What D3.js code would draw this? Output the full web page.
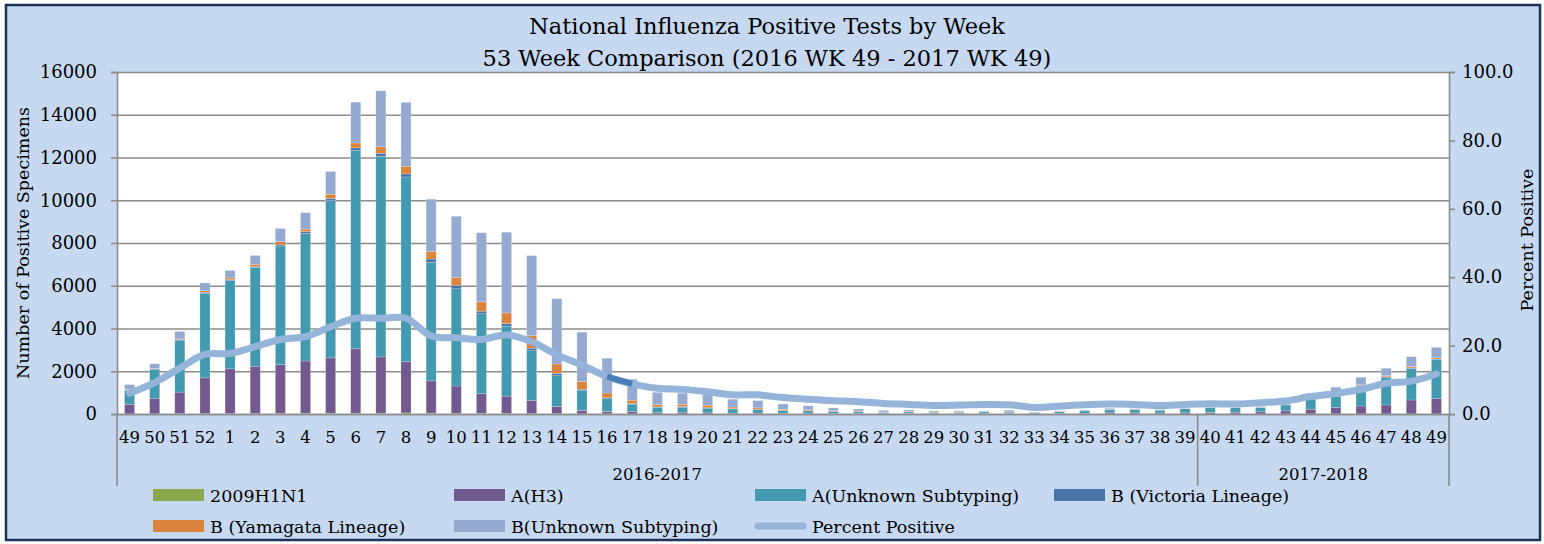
<!DOCTYPE html>
<html>
<head>
<meta charset="utf-8">
<script src="https://cdn.jsdelivr.net/npm/d3@7"></script>
<style>
  html, body { margin: 0; padding: 0; background: #ffffff; }
  svg { display: block; }
  text { font-family: "DejaVu Serif", "Liberation Serif", serif; fill: #000; }
</style>
</head>
<body>
<svg id="chart" width="1544" height="544"></svg>
<script>
// ---------------- DATA ----------------
const weeks = ["49","50","51","52","1","2","3","4","5","6","7","8","9","10","11","12","13","14","15","16","17","18","19","20","21","22","23","24","25","26","27","28","29","30","31","32","33","34","35","36","37","38","39","40","41","42","43","44","45","46","47","48","49"];
const seasons = [
  { label: "2016-2017", first: 0, last: 42 },
  { label: "2017-2018", first: 43, last: 52 }
];
const h1n1 = [5,10,15,20,25,25,30,30,35,40,40,50,40,30,30,25,20,15,10,10,8,5,5,5,5,5,5,5,5,5,5,5,5,5,5,10,5,5,5,5,5,5,5,5,5,5,5,5,5,5,5,5,5];
const aH3 = [450,730,1010,1670,2090,2210,2280,2450,2590,3010,2630,2400,1510,1280,920,810,620,340,155,110,110,50,80,50,40,40,30,25,20,20,15,20,15,15,15,20,15,20,30,50,50,40,50,70,80,95,140,220,300,370,420,650,730];
const aUnknown = [650,1350,2430,3950,4130,4630,5550,5970,7370,9290,9390,8640,5540,4550,3740,3275,2320,1435,935,590,340,260,230,215,190,160,120,110,100,80,60,70,55,60,80,60,50,80,110,160,150,130,190,220,210,215,280,480,510,935,1295,1480,1825];
const bVictoria = [20,20,30,50,40,40,50,80,90,110,140,140,160,160,120,120,120,110,60,50,30,20,30,20,20,20,15,15,10,10,5,5,5,5,5,5,5,5,5,5,5,5,5,5,5,5,5,10,10,15,20,20,20];
const bYamagata = [30,20,30,80,80,100,150,120,200,230,300,360,360,370,440,500,580,440,360,220,160,110,110,120,70,60,50,40,30,20,20,20,15,15,10,20,5,10,10,10,10,10,5,5,5,5,10,20,30,40,50,60,50];
const bUnknown = [220,220,350,360,350,410,620,770,1060,1910,2620,2990,2440,2860,3230,3775,3750,3055,2310,1630,980,570,520,485,370,340,250,190,120,100,70,70,50,45,30,65,15,25,30,40,35,35,15,15,15,25,65,240,400,355,350,470,490];
const percentPositive = [6.1,9.2,13.4,17.4,17.7,19.7,21.8,22.6,25.5,28.0,28.0,28.0,22.8,22.3,21.8,23.1,21.1,17.3,14.3,10.9,8.8,7.5,7.2,6.5,5.6,5.6,4.8,4.3,3.9,3.6,3.1,2.8,2.5,2.6,2.8,2.7,1.9,2.3,2.7,2.9,2.8,2.5,2.8,3.0,2.9,3.3,3.8,5.1,6.0,7.2,9.0,9.6,11.7];
const highlightSegment = [19, 20]; // darker piece of the percent line (wk 16 -> 17)
const leftTicks = [0,2000,4000,6000,8000,10000,12000,14000,16000];
const rightTicks = [0,20,40,60,80,100];
const seriesNames = ["2009H1N1","A(H3)","A(Unknown Subtyping)","B (Victoria Lineage)","B (Yamagata Lineage)","B(Unknown Subtyping)"];
const seriesColors = ["#8AA84B","#72598F","#4299B0","#4673A8","#DB843D","#95AAD0"];
const lineName = "Percent Positive";
const lineColor = "#95B4D9";
const titleLines = ["National Influenza Positive Tests by Week","53 Week Comparison (2016 WK 49 - 2017 WK 49)"];
const yTitleLeft = "Number of Positive Specimens";
const yTitleRight = "Percent Positive";

// ---------------- LAYOUT ----------------
const plot = { left: 117, right: 1449, top: 72, bottom: 414 };
const svg = d3.select("#chart");
const FONT = "DejaVu Serif, Liberation Serif, serif";

// frame
svg.append("rect").attr("x", 6).attr("y", 5).attr("width", 1534).attr("height", 535)
  .attr("fill", "#C6D9F0").attr("stroke", "#1B3358").attr("stroke-width", 2.5);

// plot area
svg.append("rect").attr("x", plot.left).attr("y", plot.top)
  .attr("width", plot.right - plot.left).attr("height", plot.bottom - plot.top)
  .attr("fill", "#ffffff");

const x = d3.scaleBand().domain(d3.range(weeks.length)).range([plot.left, plot.right]).padding(0);
const y = d3.scaleLinear().domain([0, 16000]).range([plot.bottom, plot.top]);
const y2 = d3.scaleLinear().domain([0, 100]).range([plot.bottom, plot.top]);

// gridlines
const grid = svg.append("g").attr("transform", `translate(${plot.left},0)`)
  .call(d3.axisLeft(y).tickValues(leftTicks).tickSize(-(plot.right - plot.left)).tickFormat(""));
grid.select(".domain").remove();
grid.selectAll("line").attr("stroke", "#8C8C8C").attr("stroke-width", 1.6);

// stacked bars
const rows = weeks.map((w, i) => ({ i, v: [h1n1[i], aH3[i], aUnknown[i], bVictoria[i], bYamagata[i], bUnknown[i]] }));
const stack = d3.stack().keys(d3.range(6)).value((d, k) => d.v[k]);
const stacked = stack(rows);
const barW = x.bandwidth() / 2.5;
svg.append("g").selectAll("g").data(stacked).join("g")
  .attr("fill", (d, k) => seriesColors[k])
  .selectAll("rect").data(d => d).join("rect")
  .attr("x", d => x(d.data.i) + (x.bandwidth() - barW) / 2)
  .attr("width", barW)
  .attr("y", d => y(d[1]))
  .attr("height", d => Math.max(0, y(d[0]) - y(d[1])))
  .attr("stroke", "rgba(255,255,255,0.35)").attr("stroke-width", 0.6);

// percent line
const cx = d => x(d.i) + x.bandwidth() / 2;
const line = d3.line().x(cx).y(d => y2(d.p)).curve(d3.curveCatmullRom.alpha(0.5));
const pts = percentPositive.map((p, i) => ({ i, p }));
svg.append("path").datum(pts).attr("d", line)
  .attr("fill", "none").attr("stroke", lineColor).attr("stroke-width", 7)
  .attr("stroke-linejoin", "round").attr("stroke-linecap", "round");
svg.append("path").datum(pts.slice(highlightSegment[0], highlightSegment[1] + 1))
  .attr("d", d3.line().x(cx).y(d => y2(d.p)))
  .attr("fill", "none").attr("stroke", "#4A7EBB").attr("stroke-width", 6);

// left axis
const axL = svg.append("g").attr("transform", `translate(${plot.left},0)`)
  .call(d3.axisLeft(y).tickValues(leftTicks).tickSize(6).tickPadding(14).tickFormat(d3.format("d")));
axL.select(".domain").attr("stroke", "#8C8C8C").attr("stroke-width", 1.6);
axL.selectAll("line").attr("stroke", "#8C8C8C").attr("stroke-width", 1.6);
axL.selectAll("text").attr("font-family", FONT).attr("font-size", 18).attr("fill", "#000");

// right axis
const axR = svg.append("g").attr("transform", `translate(${plot.right},0)`)
  .call(d3.axisRight(y2).tickValues(rightTicks).tickSize(6).tickPadding(7).tickFormat(d3.format(".1f")));
axR.select(".domain").attr("stroke", "#8C8C8C").attr("stroke-width", 1.6);
axR.selectAll("line").attr("stroke", "#8C8C8C").attr("stroke-width", 1.6);
axR.selectAll("text").attr("font-family", FONT).attr("font-size", 18).attr("fill", "#000");

// bottom axis
const axB = svg.append("g").attr("transform", `translate(0,${plot.bottom})`)
  .call(d3.axisBottom(x).tickSize(0).tickPadding(17).tickFormat(i => weeks[i]));
axB.select(".domain").attr("stroke", "#8C8C8C").attr("stroke-width", 1.6);
axB.selectAll("text").attr("font-family", FONT).attr("font-size", 16.5).attr("fill", "#000");

// season group separators & labels
const sepX = [plot.left, x(seasons[1].first), plot.right];
svg.append("g").selectAll("line").data(sepX).join("line")
  .attr("x1", d => d).attr("x2", d => d)
  .attr("y1", plot.bottom).attr("y2", 486)
  .attr("stroke", "#8C8C8C").attr("stroke-width", 1.6);
svg.append("g").selectAll("text").data(seasons).join("text")
  .attr("x", d => (x(d.first) + x(d.last) + x.bandwidth()) / 2)
  .attr("y", 480).attr("text-anchor", "middle").attr("font-size", 16.5)
  .text(d => d.label);

// titles
svg.append("g").selectAll("text").data(titleLines).join("text")
  .attr("x", 767).attr("y", (d, i) => 34 + i * 32)
  .attr("text-anchor", "middle").attr("font-size", 22.5).text(d => d);

svg.append("text").attr("transform", "translate(29,243) rotate(-90)")
  .attr("text-anchor", "middle").attr("font-size", 17.5).text(yTitleLeft);
svg.append("text").attr("transform", "translate(1533,240) rotate(-90)")
  .attr("text-anchor", "middle").attr("font-size", 17.5).text(yTitleRight);

// legend
const legendItems = seriesNames.map((n, k) => ({ name: n, color: seriesColors[k], type: "rect" }))
  .concat([{ name: lineName, color: lineColor, type: "line" }]);
const colX = [153, 454, 755, 1054];
const rowY = [495, 526];
const lg = svg.append("g").selectAll("g").data(legendItems).join("g")
  .attr("transform", (d, i) => `translate(${colX[i % 4]},${rowY[Math.floor(i / 4)]})`);
lg.filter(d => d.type === "rect").append("rect")
  .attr("x", 0).attr("y", -6).attr("width", 51).attr("height", 12).attr("fill", d => d.color);
lg.filter(d => d.type === "line").append("line")
  .attr("x1", 3).attr("x2", 48).attr("y1", 0).attr("y2", 0)
  .attr("stroke", d => d.color).attr("stroke-width", 7).attr("stroke-linecap", "round");
lg.append("text").attr("x", 57).attr("y", 6.5).attr("font-size", 17.5).text(d => d.name);
</script>
</body>
</html>
